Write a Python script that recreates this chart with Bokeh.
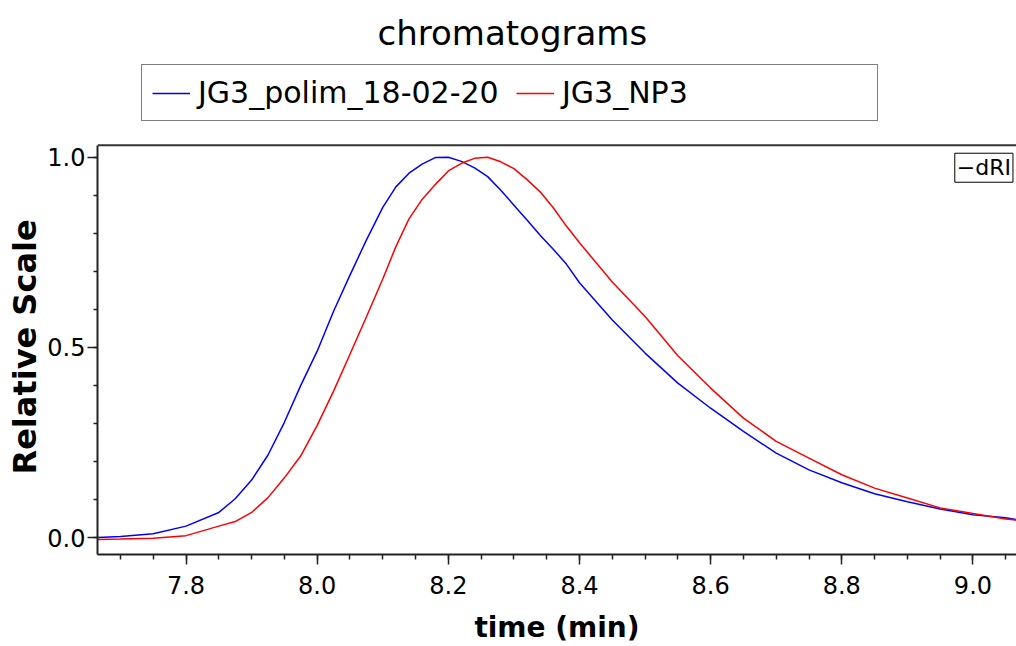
from bokeh.plotting import figure
from bokeh.models import (Range1d, SingleIntervalTicker, NumeralTickFormatter, Legend, LegendItem,
                          Label, Span, Title)
from bokeh.embed import file_html
from bokeh.resources import INLINE

# data
time_min = [7.665, 7.70, 7.75, 7.80, 7.85, 7.875, 7.90, 7.925, 7.95, 7.975,
            8.00, 8.025, 8.05, 8.075, 8.10, 8.12, 8.14, 8.16, 8.18, 8.20,
            8.22, 8.24, 8.26, 8.28, 8.30, 8.32, 8.34, 8.36, 8.38, 8.40,
            8.45, 8.50, 8.55, 8.60, 8.65, 8.70, 8.75, 8.80, 8.85, 8.90,
            8.95, 9.00, 9.05, 9.066]
polim = [0.000, 0.003, 0.010, 0.030, 0.066, 0.102, 0.151, 0.217, 0.303, 0.400,
         0.490, 0.595, 0.690, 0.782, 0.868, 0.922, 0.958, 0.982, 0.999, 1.000,
         0.989, 0.972, 0.949, 0.913, 0.874, 0.835, 0.795, 0.758, 0.719, 0.670,
         0.572, 0.485, 0.406, 0.340, 0.279, 0.222, 0.178, 0.144, 0.115, 0.094,
         0.075, 0.060, 0.052, 0.047]
np3 = [-0.005, -0.004, -0.002, 0.005, 0.030, 0.042, 0.066, 0.105, 0.157, 0.215,
       0.295, 0.385, 0.482, 0.580, 0.680, 0.765, 0.838, 0.889, 0.928, 0.964,
       0.984, 0.997, 1.000, 0.988, 0.970, 0.941, 0.909, 0.867, 0.819, 0.775,
       0.672, 0.581, 0.478, 0.393, 0.314, 0.253, 0.209, 0.165, 0.130, 0.104,
       0.078, 0.063, 0.049, 0.046]
series_names = ["JG3_polim_18-02-20", "JG3_NP3"]
series_colors = ["#0000ff", "#ff0000"]

X0, X1 = 7.665, 9.0664
Y0, YTOP, Y1 = -0.0446, 1.0315, 1.4121

p = figure(width=1016, height=646, output_backend="svg", toolbar_location=None, title=None,
           x_range=Range1d(X0, X1), y_range=Range1d(Y0, Y1),
           min_border_left=97, min_border_right=0, min_border_top=0, min_border_bottom=91)
p.outline_line_color = None
p.grid.visible = False
p.background_fill_color = "white"
p.border_fill_color = "white"

FONT = "DejaVu Sans"
r1 = p.line(time_min, polim, line_color=series_colors[0], line_width=1.5)
r2 = p.line(time_min, np3, line_color=series_colors[1], line_width=1.5)

# axes
for ax in (p.xaxis[0], p.yaxis[0]):
    ax.axis_line_width = 2
    ax.axis_line_color = "#222222"
    ax.major_tick_line_color = "#222222"
    ax.minor_tick_line_color = "#222222"
    ax.major_tick_line_width = 1.5
    ax.minor_tick_line_width = 1.5
    ax.major_tick_in = 0
    ax.minor_tick_in = 0
    ax.major_label_text_font = FONT
    ax.major_label_text_font_size = "24px"
    ax.major_label_text_color = "black"
    ax.axis_label_text_font = FONT
    ax.axis_label_text_font_style = "bold"
    ax.axis_label_text_color = "black"
    ax.formatter = NumeralTickFormatter(format="0.0")

p.xaxis.ticker = SingleIntervalTicker(interval=0.2, num_minor_ticks=4)
p.yaxis.ticker = SingleIntervalTicker(interval=0.5, num_minor_ticks=5)
p.yaxis.bounds = (Y0, YTOP)
p.xaxis.major_tick_out = 10
p.xaxis.minor_tick_out = 5
p.yaxis.major_tick_out = 10
p.yaxis.minor_tick_out = 4
p.xaxis.axis_label = "time (min)"
p.xaxis.axis_label_text_font_size = "28px"
p.xaxis.major_label_standoff = 11
p.yaxis.major_label_standoff = 2
p.xaxis.axis_label_standoff = 14

# y axis title (placed on the left side, shifted up from the frame bottom)
p.add_layout(Title(text="Relative Scale", align="left", offset=80, text_font=FONT,
                   text_font_size="32px", text_font_style="bold", text_color="black",
                   standoff=2), "left")

# top frame line
p.add_layout(Span(location=YTOP, dimension="width", line_color="#333333", line_width=2))

# chart title
p.add_layout(Label(x=8.2976, y=1.3255, text="chromatograms", text_align="center",
                   text_baseline="middle", text_font=FONT, text_font_size="34px",
                   text_color="black"))

legend = Legend(items=[LegendItem(label=series_names[0], renderers=[r1]),
                       LegendItem(label=series_names[1], renderers=[r2])],
                orientation="horizontal", location=(44, 433))
legend.border_line_color = "black"
legend.border_line_width = 1
legend.background_fill_color = "white"
legend.background_fill_alpha = 1
legend.label_text_font = FONT
legend.label_text_font_size = "30px"
legend.label_text_color = "black"
legend.glyph_width = 38
legend.label_standoff = 8
legend.spacing = 13
legend.padding = 10
legend.label_width = 305
legend.margin = 0
p.add_layout(legend, "center")

p.add_layout(Label(x=9.061, y=1.0105, text="\u2212dRI", text_align="right", text_baseline="top",
                   text_font=FONT, text_font_size="22px", text_color="black",
                   border_line_color="black", background_fill_color="white", padding=2))

open("out.html", "w").write(file_html(p, INLINE))
